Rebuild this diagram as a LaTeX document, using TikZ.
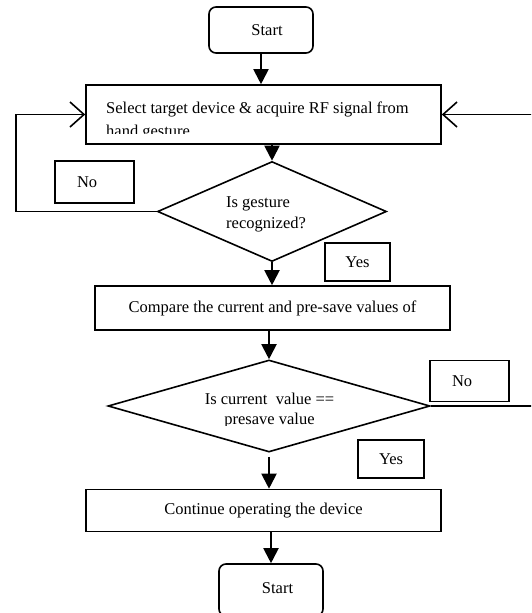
\documentclass[tikz,border=0pt]{standalone}
\usepackage{fontspec}
\setmainfont{Liberation Serif}
\usetikzlibrary{shapes.geometric,arrows.meta}
\newcommand{\flfont}{\fontsize{16.5pt}{21pt}\selectfont}
\begin{document}
\begin{tikzpicture}[x=1pt,y=-1pt,
  every node/.style={font=\flfont, inner sep=0pt},
  termbox/.style={draw, line width=1.6pt, rounded corners=7pt, minimum width=104pt},
  procbox/.style={draw, line width=1.6pt, minimum width=355pt},
  decbox/.style={draw, diamond, line width=1.6pt, inner sep=0pt},
  lblbox/.style={draw, line width=1.4pt},
  nolbl/.style={lblbox, minimum width=79pt, text width=35pt, inner xsep=22pt, align=left},
  flow/.style={line width=2pt, -{Triangle[length=15pt,width=15pt]}},
  loopline/.style={line width=1.6pt, -{Straight Barb[length=14pt,width=25pt]}}
]
\useasboundingbox (0,0) rectangle (531,613);
\clip (0,0) rectangle (531,613);

% nodes
\node[termbox, minimum height=46pt] (start1) at (261,30) {\hspace*{12pt}Start};
\node[procbox, minimum height=59pt] (b1) at (263.5,114.5) {};
\node[decbox, minimum width=229pt, minimum height=100pt] (d1) at (272,211.5) {};
\node[nolbl, minimum height=42pt] (no1) at (94.5,182) {No};
\node[lblbox, minimum width=65pt, minimum height=38pt] (yes1) at (357.5,262) {Yes};
\node[procbox, minimum height=44pt] (b2) at (272.5,308) {Compare the current and pre-save values of};
\node[decbox, minimum width=322pt, minimum height=92pt] (d2) at (269,406) {};
\node[nolbl, minimum height=41pt] (no2) at (469.5,381) {No};
\node[lblbox, minimum width=66pt, minimum height=38pt] (yes2) at (391,459) {Yes};
\node[procbox, minimum height=42pt] (b3) at (263.5,510.5) {Continue operating the device};
\node[termbox, minimum height=52pt] (start2) at (271,590) {\hspace*{13pt}\raisebox{4pt}{Start}};

% texts inside shapes (clipped as in the reference)
\begin{scope}
  \clip (86,85) rectangle (441,133);
  \node[anchor=north west, align=left, font=\fontsize{16.5pt}{23pt}\selectfont] (t1) at (106,101.5)
    {Select target device \& acquire RF signal from\\hand gesture};
\end{scope}
\node[anchor=north west, align=left, font=\fontsize{16.5pt}{21pt}\selectfont] (t2) at (226,196.5)
  {Is gesture\\recognized?};
\begin{scope}
  \clip (100,380) rectangle (440,425);
  \node[anchor=north, align=center, font=\fontsize{16.5pt}{20pt}\selectfont] (t3) at (269.5,392.5)
    {Is current\ \ value ==\\presave value};
\end{scope}

% loop coordinates
\coordinate (lx) at (16,0);
\coordinate (rx) at (560,0);

% connectors
\draw[flow] (start1.south) -- (start1.south |- b1.north);
\draw[flow] (d1.north |- b1.south) -- (d1.north);
\draw[flow] (d1.south) -- (d1.south |- b2.north);
\draw[flow] (d2.north |- b2.south) -- (d2.north);
\draw[flow, shorten <=4pt] (d2.south) -- (d2.south |- b3.north);
\draw[flow] (start2.north |- b3.south) -- (start2.north);
\draw[loopline] (d1.west) -- (d1.west -| lx) |- (b1.west);
\draw[loopline] (d2.east) -- (d2.east -| rx) |- (b1.east);
\end{tikzpicture}
\end{document}
